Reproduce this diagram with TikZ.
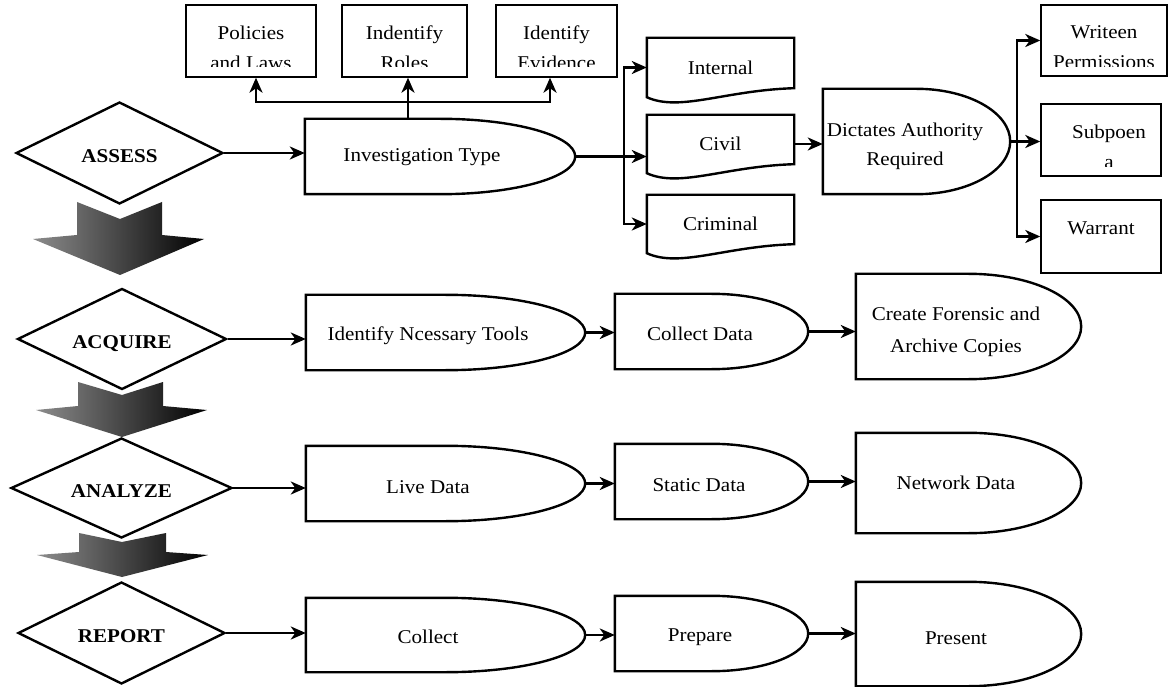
\documentclass[tikz,border=0pt]{standalone}
\usepackage{fontspec}
\setmainfont{Liberation Serif}[FakeStretch=1.08]
\usetikzlibrary{shapes.geometric,arrows.meta,calc}

% "delay" outline: straight left half, half ellipse on the right
\newcommand\delayoutline[1]{%
  \draw[shapeline] let \p1=(#1.north east), \p2=(#1.south west) in
    (#1.south west) -- (#1.north west) -- (#1.north)
    arc[start angle=90, end angle=-90,
        x radius={(\x1-\x2)/2}, y radius={(\y1-\y2)/2}] -- cycle;}

% "document" outline: rectangle with a wavy bottom edge
\newcommand\docoutline[1]{%
  \draw[shapeline] (#1.south west) -- (#1.north west) -- (#1.north east)
    -- ($(#1.south east)+(0,-9)$)
    .. controls ($(#1.south east)+(-69,-7)$) and ($(#1.south west)+(33,15)$) .. (#1.south west)
    -- cycle;}

\tikzset{
  conn/.style={line width=2.8pt, -{Stealth[length=15pt,width=13pt,inset=4.5pt]}},
  shapeline/.style={line width=2.4pt},
  frame/.style={draw=none, inner sep=0pt},
  lbl/.style={font=\fontsize{19.5}{30}\selectfont, inner sep=0pt, align=center},
  thinbox/.style={draw, line width=1.4pt, inner sep=0pt},
  phase/.style={diamond, aspect=2, draw, fill=white, line width=2.4pt, inner sep=0pt,
    font=\fontsize{19.5}{22}\selectfont\bfseries, text height=19pt, text depth=0pt},
  downarrow/.style={left color=black!45, right color=black},
}

\begin{document}
\begin{tikzpicture}[x=1pt, y=-1pt, line join=miter]
\useasboundingbox (0,0) rectangle (1168,687);
\fill[white] (0,0) rectangle (1168,687);

% ---- phase arrows between the stages
\shade[downarrow] (77,202) -- (120,219) -- (162,202) -- (162,235) -- (204,239)
  -- (120,275) -- (33,239) -- (77,235) -- cycle;
\shade[downarrow] (78,382) -- (122,395) -- (163,382) -- (163,406) -- (207,410)
  -- (122,437) -- (36,410) -- (78,406) -- cycle;
\shade[downarrow] (79,533) -- (122,542) -- (166,533) -- (166,552) -- (208,555)
  -- (122,577) -- (37,555) -- (79,552) -- cycle;

% ---- stages
\node[phase, minimum width=207pt, minimum height=102pt] (assess)  at (119.5,153) {ASSESS};
\node[phase, minimum width=209pt, minimum height=101pt] (acquire) at (122,339)   {ACQUIRE};
\node[phase, minimum width=221pt, minimum height=100pt] (analyze) at (121.5,488) {ANALYZE};
\node[phase, minimum width=207pt, minimum height=102pt] (report)  at (121.5,633) {REPORT};

% ---- delay-shaped steps
\node[frame, minimum width=270pt, minimum height=75pt]  (inv)   at (440,156.5)   {};
\node[frame, minimum width=279pt, minimum height=75pt]  (tools) at (445.5,332.5) {};
\node[frame, minimum width=279pt, minimum height=75pt]  (live)  at (445.5,483.5) {};
\node[frame, minimum width=279pt, minimum height=74pt]  (coll)  at (445.5,635)   {};
\node[frame, minimum width=193pt, minimum height=75pt]  (cdata) at (711.5,331.5) {};
\node[frame, minimum width=193pt, minimum height=75pt]  (stat)  at (711.5,481.5) {};
\node[frame, minimum width=193pt, minimum height=75pt]  (prep)  at (711.5,633.5) {};
\node[frame, minimum width=225pt, minimum height=105pt] (fore)  at (968.5,326.5) {};
\node[frame, minimum width=225pt, minimum height=100pt] (net)   at (968.5,483)   {};
\node[frame, minimum width=225pt, minimum height=104pt] (pres)  at (968.5,634)   {};
\node[frame, minimum width=187pt, minimum height=105pt] (dict)  at (916.5,141.5) {};
\foreach \nm in {inv,tools,live,coll,cdata,stat,prep,fore,net,pres,dict} {\delayoutline{\nm}}

\node[lbl] (invT)   at (422,157) {Investigation Type};
\node[lbl] (toolsT) at (428,336) {Identify Ncessary Tools};
\node[lbl] (liveT)  at (428,487) {Live Data};
\node[lbl] (collT)  at (428,637) {Collect};
\node[lbl] (cdataT) at (700,334) {Collect Data};
\node[lbl] (statT)  at (699,485) {Static Data};
\node[lbl] (prepT)  at (700,637) {Prepare};
\node[lbl, font=\fontsize{19.5}{32}\selectfont] (foreT) at (956,332) {Create Forensic and\\Archive Copies};
\node[lbl] (netT)   at (956,483) {Network Data};
\node[lbl] (presT)  at (956,638) {Present};
\node[lbl, font=\fontsize{19.5}{29}\selectfont] (dictT) at (905,146.5) {Dictates Authority\\Required};

% ---- investigation types (document shapes)
\node[lbl, minimum width=147pt, minimum height=59pt] (int)  at (720.5,67.5) {Internal};
\node[lbl, minimum width=147pt, minimum height=58pt] (civ)  at (720.5,144)  {Civil};
\node[lbl, minimum width=147pt, minimum height=58pt] (crim) at (720.5,224)  {Criminal};
\foreach \nm in {int,civ,crim} {\docoutline{\nm}}

% ---- text boxes with top-aligned, clipped text
\node[thinbox, minimum width=130pt, minimum height=72pt] (pol)   at (251,41)     {};
\node[thinbox, minimum width=125pt, minimum height=72pt] (roles) at (404.5,41)   {};
\node[thinbox, minimum width=121pt, minimum height=72pt] (evid)  at (556.5,41)   {};
\node[thinbox, minimum width=126pt, minimum height=71pt] (wp)    at (1104,40.5)  {};
\node[thinbox, minimum width=120pt, minimum height=72pt] (sub)   at (1101,140)   {};
\node[thinbox, minimum width=120pt, minimum height=73pt] (war)   at (1101,236.5) {};

\begin{scope}
  \clip (pol.north west) rectangle ($(pol.south east)+(0,-11)$);
  \node[lbl, anchor=north] (polT) at ($(pol.north)+(0,21)$) {Policies\\and Laws};
\end{scope}
\begin{scope}
  \clip (roles.north west) rectangle ($(roles.south east)+(0,-11)$);
  \node[lbl, anchor=north] (rolesT) at ($(roles.north)+(0,21)$) {Indentify\\Roles};
\end{scope}
\begin{scope}
  \clip (evid.north west) rectangle ($(evid.south east)+(0,-11)$);
  \node[lbl, anchor=north] (evidT) at ($(evid.north)+(0,21)$) {Identify\\Evidence};
\end{scope}
\begin{scope}
  \clip (wp.north west) rectangle ($(wp.south east)+(0,-10)$);
  \node[lbl, anchor=north] (wpT) at ($(wp.north)+(0,21)$) {Writeen\\Permissions};
\end{scope}
\begin{scope}
  \clip (sub.north west) rectangle ($(sub.south east)+(0,-10)$);
  \node[lbl, anchor=north] (subT) at ($(sub.north)+(8,21)$) {Subpoen\\a};
\end{scope}
\begin{scope}
  \clip (war.north west) rectangle ($(war.south east)+(0,-10)$);
  \node[lbl, anchor=north] (warT) at ($(war.north)+(0,22)$) {Warrant};
\end{scope}

% ---- connectors
\draw[conn] (assess.east)  -- (assess.east -| inv.west);
\draw[conn] (acquire.east) -- (acquire.east -| tools.west);
\draw[conn] (analyze.east) -- (analyze.east -| live.west);
\draw[conn] (report.east)  -- (report.east -| coll.west);

\coordinate (hub) at (408,102);
\coordinate (brL) at (256,102);
\coordinate (brR) at (550,102);
\draw[conn] (inv.north -| hub) -- (roles.south -| hub);
\draw[conn] (hub) -- (brL) -- (brL |- pol.south);
\draw[conn] (hub) -- (brR) -- (brR |- evid.south);

\coordinate (dvx) at (624,0);
\draw[conn] (inv.east) -- (inv.east -| civ.west);
\draw[conn] (inv.east -| dvx) -- (int.west -| dvx) -- (int.west);
\draw[conn] (inv.east -| dvx) -- (crim.west -| dvx) -- (crim.west);
\draw[conn] (civ.east) -- (civ.east -| dict.west);

\coordinate (rvx) at (1017,0);
\draw[conn] (dict.east) -- (dict.east -| sub.west);
\draw[conn] (dict.east -| rvx) -- (wp.west -| rvx) -- (wp.west);
\draw[conn] (dict.east -| rvx) -- (war.west -| rvx) -- (war.west);

\draw[conn] (tools.east) -- (tools.east -| cdata.west);
\draw[conn] (cdata.east) -- (cdata.east -| fore.west);
\draw[conn] (live.east)  -- (live.east -| stat.west);
\draw[conn] (stat.east)  -- (stat.east -| net.west);
\draw[conn] (coll.east)  -- (coll.east -| prep.west);
\draw[conn] (prep.east)  -- (prep.east -| pres.west);
\end{tikzpicture}
\end{document}
